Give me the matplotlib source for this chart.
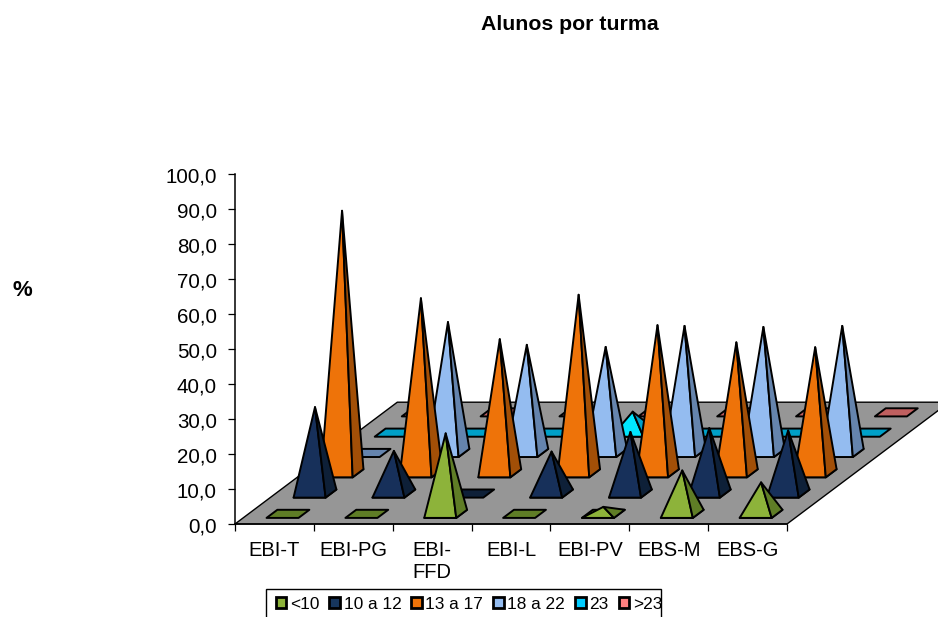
import matplotlib
matplotlib.use('Agg')
import matplotlib.pyplot as plt
from matplotlib.patches import Patch, Polygon, Rectangle
from matplotlib.ticker import FuncFormatter
from matplotlib.transforms import ScaledTranslation

plt.rcParams['font.family'] = ['Liberation Sans', 'DejaVu Sans']

categories = ['EBI-T', 'EBI-PG', 'EBI-\nFFD', 'EBI-L', 'EBI-PV', 'EBS-M', 'EBS-G']
series = ['<10', '10 a 12', '13 a 17', '18 a 22', '23', '>23']

menos_10 = [0, 0, 23, 0, 2, 12.4, 9]
de_10_12 = [24.7, 12.2, 0, 12, 17.6, 18.7, 18]
de_13_17 = [75, 50, 38.3, 51, 42.3, 37.4, 36]
de_18_22 = [0, 37.4, 30.9, 30.3, 36.3, 36, 36.3]
igual_23 = [0, 0, 0, 6, 0, 0, 0]
mais_23 = [0, 0, 0, 0, 0, 0, 0]
values = [menos_10, de_10_12, de_13_17, de_18_22, igual_23, mais_23]

front_colors = ['#8db33a', '#17305a', '#ee7309', '#94bcf0', '#00e6ff', '#ff8080']
side_colors = ['#5f7d26', '#0e2038', '#a24f07', '#6584ad', '#00a0c8', '#c06060']
legend_colors = ['#8db33a', '#17365d', '#ee7309', '#94bcf0', '#00ccff', '#ff8080']

fig = plt.figure(figsize=(9.38, 6.17), dpi=100)
ax = fig.add_axes([235 / 938, 1 - 524 / 617, 552 / 938, 350 / 617])
ax.set_xlim(0, 7)
ax.set_ylim(0, 100)
ax.patch.set_visible(False)

# oblique projection: one series row moves the floor this far
row_dx = 0.343
row_dy = 5.8
half_w = 0.203
half_d = 0.2


def project(cat, row, height=0):
    return (cat + row * row_dx, height + row * row_dy)


def poly(points, color, lw=1.4):
    ax.add_patch(Polygon(points, closed=True, facecolor=color, edgecolor='black',
                         linewidth=lw, joinstyle='round', clip_on=False))


poly([project(0, 0), project(7, 0), project(7, 6), project(0, 6)], '#969696', lw=1.0)

# back row first so the front ones cover it
for row in reversed(range(len(series))):
    for i, val in enumerate(values[row]):
        c = i + 0.5
        r = row + 0.5
        fl = project(c - half_w, r - half_d)
        fr = project(c + half_w, r - half_d)
        br = project(c + half_w, r + half_d)
        bl = project(c - half_w, r + half_d)
        top = project(c, r, val)
        poly([fl, fr, br, bl], side_colors[row])
        if val > 0:
            poly([fl, fr, top], front_colors[row])
            poly([fr, br, top], side_colors[row])

for name in ['top', 'right']:
    ax.spines[name].set_visible(False)
ax.spines['left'].set_linewidth(1.1)
ax.spines['bottom'].set_linewidth(1.1)

ax.set_yticks(range(0, 101, 10))
ax.yaxis.set_major_formatter(FuncFormatter(lambda v, _: f'{v:.1f}'.replace('.', ',')))
ax.tick_params(axis='y', labelsize=14.8, length=5, width=0.9, pad=8)
# numbers sit a little under their tick in the original
shift = ScaledTranslation(0, -1.2 / 100, fig.dpi_scale_trans)
for lab in ax.get_yticklabels():
    lab.set_transform(lab.get_transform() + shift)

ax.set_xticks(range(8))
ax.set_xticklabels([])
ax.set_xticks([i + 0.5 for i in range(7)], minor=True)
ax.set_xticklabels(categories, minor=True, fontsize=14.5, linespacing=1.2)
ax.tick_params(axis='x', which='major', length=5, width=0.9)
ax.tick_params(axis='x', which='minor', length=0, pad=12)

fig.text(570 / 938, 1 - 25 / 617, 'Alunos por turma', ha='center', va='center',
         fontsize=15.3, fontweight='bold')
fig.text(22 / 938, 1 - 291 / 617, '%', ha='center', va='center',
         fontsize=16, fontweight='bold')

handles = [Patch(facecolor=col, edgecolor='black', linewidth=2, label=name)
           for col, name in zip(legend_colors, series)]
fig.legend(handles=handles, loc='upper left', bbox_to_anchor=(276 / 938, 1 - 597 / 617),
           ncols=6, frameon=False, fontsize=12.4, handlelength=0.6, handleheight=0.6,
           handletextpad=0.22, columnspacing=0.58, borderpad=0, borderaxespad=0)
# frame runs off the bottom of the picture
fig.add_artist(Rectangle((266 / 938, -0.05), 395 / 938, 0.05 + 1 - 589 / 617, fill=False,
                         edgecolor='black', linewidth=1.0, transform=fig.transFigure))

plt.savefig('out.png', dpi=100)
